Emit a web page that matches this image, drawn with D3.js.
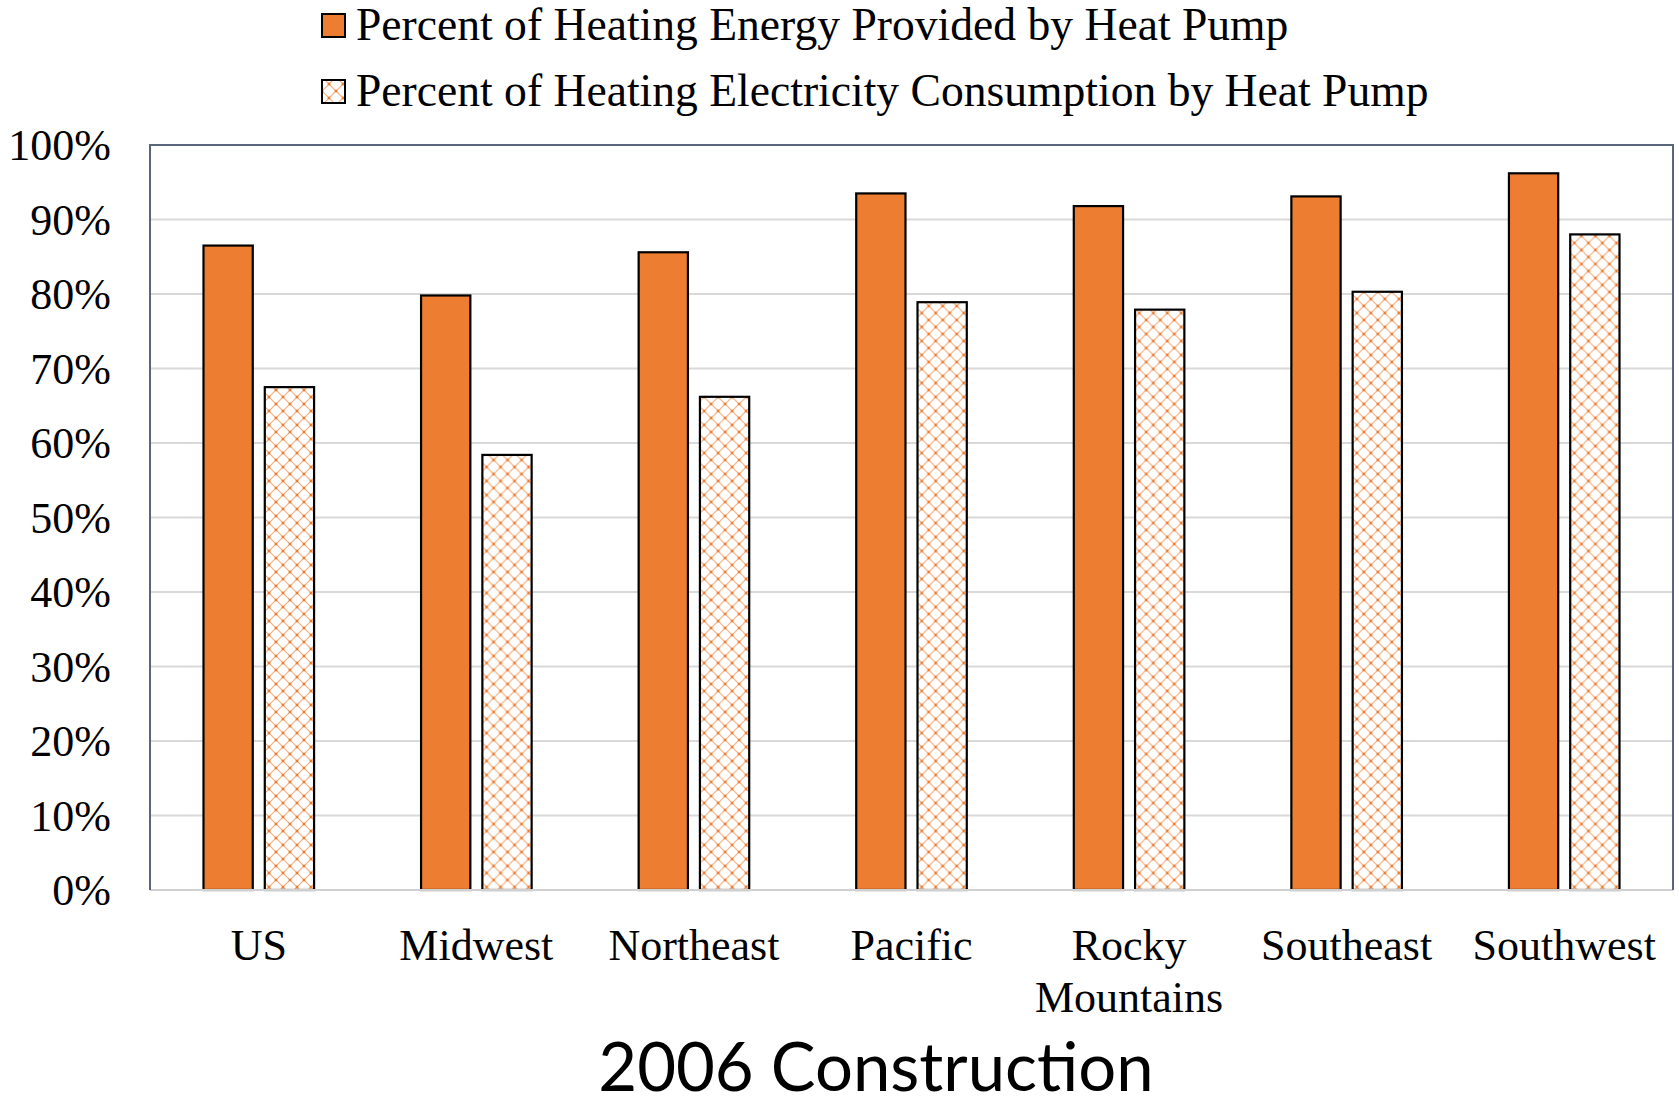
<!DOCTYPE html>
<html>
<head>
<meta charset="utf-8">
<script src="https://cdn.jsdelivr.net/npm/d3@7"></script>
<style>
  body { margin: 0; background: #ffffff; }
  svg { display: block; }
</style>
</head>
<body>
<div id="chart"></div>
<script>
// data
var regions = ["US", "Midwest", "Northeast", "Pacific", "Rocky Mountains", "Southeast", "Southwest"];
var energyPct = [86.5, 79.8, 85.6, 93.5, 91.8, 93.1, 96.2];
var electricityPct = [67.5, 58.4, 66.2, 78.9, 77.9, 80.3, 88.0];
var seriesNames = ["Percent of Heating Energy Provided by Heat Pump",
                   "Percent of Heating Electricity Consumption by Heat Pump"];
var yTicks = [0, 10, 20, 30, 40, 50, 60, 70, 80, 90, 100];
var chartTitle = "2006 Construction";

var W = 1679, H = 1108;
var margin = {top: 145, right: 6, bottom: 218, left: 150},
    width = W - margin.left - margin.right,
    height = H - margin.top - margin.bottom;

var orange = "#ED7D31";
var serif = "'Liberation Serif', 'Times New Roman', serif";

var svgRoot = d3.select("#chart")
  .append("svg")
    .attr("width", W)
    .attr("height", H);

// diamond lattice fill for the second series
var P = 14;
var defs = svgRoot.append("defs");
var pat = defs.append("pattern")
    .attr("id", "lattice")
    .attr("patternUnits", "userSpaceOnUse")
    .attr("width", P)
    .attr("height", P);
pat.append("rect").attr("width", P).attr("height", P).attr("fill", "#fff");
pat.append("path")
    .attr("d", "M0," + P/2 + " L" + P/2 + ",0 L" + P + "," + P/2 + " L" + P/2 + "," + P + " Z")
    .attr("fill", "none")
    .attr("stroke", orange)
    .attr("stroke-opacity", 0.6)
    .attr("stroke-width", 1.1);
[[0, P/2], [P, P/2], [P/2, 0], [P/2, P]].forEach(function(p) {
  pat.append("rect")
    .attr("x", p[0] - 1.3).attr("y", p[1] - 1.3)
    .attr("width", 2.6).attr("height", 2.6)
    .attr("fill", orange);
});

var svg = svgRoot.append("g")
    .attr("transform", "translate(" + margin.left + "," + margin.top + ")");

// scales
var x0 = d3.scaleBand()
    .domain(regions)
    .range([0, width])
    .padding(0);

var innerPad = 53.5;
var x1 = d3.scaleBand()
    .domain([0, 1])
    .range([innerPad, x0.bandwidth() - innerPad])
    .paddingInner(0.196)
    .paddingOuter(0);

var y = d3.scaleLinear()
    .domain([0, 100])
    .range([height, 0]);

// gridlines
svg.append("g")
  .selectAll("line")
  .data(yTicks.filter(function(d) { return d > 0 && d < 100; }))
  .enter().append("line")
    .attr("x1", 0)
    .attr("x2", width)
    .attr("y1", function(d) { return y(d); })
    .attr("y2", function(d) { return y(d); })
    .attr("stroke", "#d9d9d9")
    .attr("stroke-width", 2);

// y axis labels
var yAxis = svg.append("g")
    .call(d3.axisLeft(y).tickValues(yTicks).tickSize(0).tickPadding(39)
      .tickFormat(function(d) { return d + "%"; }));
yAxis.select(".domain").remove();
yAxis.selectAll("text")
    .attr("font-family", serif)
    .attr("font-size", 44)
    .attr("fill", "#000")
    .attr("dy", "0.34em");

// bars
var rows = regions.map(function(r, i) { return {region: r, vals: [energyPct[i], electricityPct[i]]}; });

var groups = svg.append("g")
  .selectAll("g")
  .data(rows)
  .enter().append("g")
    .attr("transform", function(d) { return "translate(" + x0(d.region) + ",0)"; });

groups.selectAll("rect")
  .data(function(d) { return d.vals.map(function(v, k) { return {k: k, v: v}; }); })
  .enter().append("rect")
    .attr("x", function(d) { return x1(d.k); })
    .attr("y", function(d) { return y(d.v); })
    .attr("width", x1.bandwidth())
    .attr("height", function(d) { return height - y(d.v); })
    .attr("fill", function(d) { return d.k == 0 ? orange : "url(#lattice)"; })
    .attr("stroke", "#000")
    .attr("stroke-width", 2.2);

// bottom axis line
svg.append("line")
    .attr("x1", 0).attr("x2", width)
    .attr("y1", height).attr("y2", height)
    .attr("stroke", "#d0d0d0")
    .attr("stroke-width", 2);

// plot frame (top, left, right)
svg.append("path")
    .attr("d", "M0," + height + " V0 H" + width + " V" + height)
    .attr("fill", "none")
    .attr("stroke", "#59657a")
    .attr("stroke-width", 2);

// category labels
var xAxis = svg.append("g")
  .selectAll("text")
  .data(regions)
  .enter().append("text")
    .attr("x", function(d) { return x0(d) + x0.bandwidth() / 2; })
    .attr("y", height + 70)
    .attr("text-anchor", "middle")
    .attr("font-family", serif)
    .attr("font-size", 44)
    .attr("fill", "#000");
xAxis.each(function(d) {
  var words = d == "Rocky Mountains" ? ["Rocky", "Mountains"] : [d];
  var t = d3.select(this);
  words.forEach(function(w, i) {
    t.append("tspan")
      .attr("x", t.attr("x"))
      .attr("dy", i == 0 ? 0 : 52)
      .text(w);
  });
});

// legend
var legend = svgRoot.append("g");
seriesNames.forEach(function(name, i) {
  var ly = 14 + i * 66;
  legend.append("rect")
    .attr("x", 322).attr("y", ly)
    .attr("width", 23).attr("height", 23)
    .attr("fill", i == 0 ? orange : "url(#lattice)")
    .attr("stroke", "#000")
    .attr("stroke-width", 2);
  legend.append("text")
    .attr("x", 356)
    .attr("y", ly + 26)
    .attr("font-family", serif)
    .attr("font-size", 45.6)
    .attr("fill", "#000")
    .text(name);
});

// title
svgRoot.append("text")
    .attr("x", 876)
    .attr("y", 1091)
    .attr("text-anchor", "middle")
    .attr("font-family", "Lato, 'DejaVu Sans', sans-serif")
    .attr("font-size", 67)
    .attr("fill", "#000")
    .text(chartTitle);
</script>
</body>
</html>
